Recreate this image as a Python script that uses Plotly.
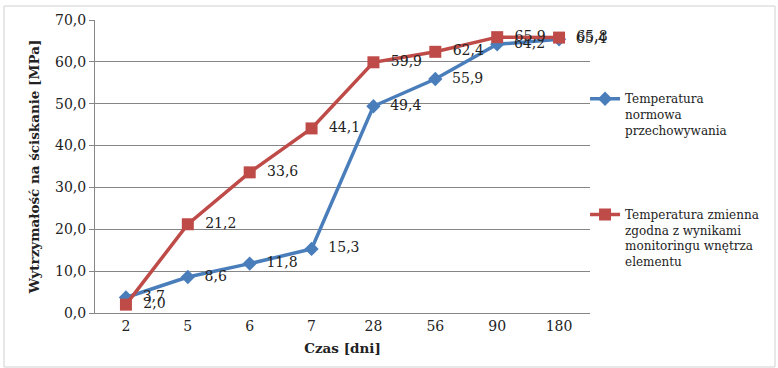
import plotly.graph_objects as go

categories = ["2", "5", "6", "7", "28", "56", "90", "180"]
normowa = [3.7, 8.6, 11.8, 15.3, 49.4, 55.9, 64.2, 65.4]
zmienna = [2.0, 21.2, 33.6, 44.1, 59.9, 62.4, 65.9, 65.8]
y_ticks = [0, 10, 20, 30, 40, 50, 60, 70]

name1 = "Temperatura<br>normowa<br>przechowywania"
name2 = "Temperatura zmienna<br>zgodna z wynikami<br>monitoringu wnętrza<br>elementu"

FONT = "DejaVu Serif"
TXT = "#222222"

def fmt(v):
    return "\u00a0\u00a0" + f"{v:.1f}".replace(".", ",")

W, H = 778, 368
ML, MR, MT, MB = 95, 188, 20, 55

fig = go.Figure()
fig.add_trace(go.Scatter(
    x=categories, y=normowa, name=name1, mode="lines+markers+text",
    line=dict(color="#4A7EBB", width=3.5),
    marker=dict(symbol="diamond", size=11, color="#4A7EBB"),
    text=[fmt(v) for v in normowa], textposition="middle right",
    textfont=dict(family=FONT, size=14, color=TXT),
    legendgroup="a", cliponaxis=False,
))
fig.add_trace(go.Scatter(
    x=categories, y=zmienna, name=name2, mode="lines+markers+text",
    line=dict(color="#BE4B48", width=3.5),
    marker=dict(symbol="square", size=12, color="#BE4B48"),
    text=[fmt(v) for v in zmienna], textposition="middle right",
    textfont=dict(family=FONT, size=14, color=TXT),
    legendgroup="b", cliponaxis=False,
))

pw = W - ML - MR
ph = H - MT - MB
fig.add_shape(type="rect", xref="paper", yref="paper",
              x0=(4 - ML) / pw, x1=(W - 3 - ML) / pw,
              y0=-(H - 1 - (H - MB)) / ph,
              y1=(MT - 6) / ph + 1,
              line=dict(color="#D0D0D0", width=1), layer="below")

fig.update_layout(
    width=W, height=H,
    margin=dict(l=ML, r=MR, t=MT, b=MB),
    paper_bgcolor="white", plot_bgcolor="white",
    separators=", ",
    font=dict(family=FONT, size=14, color=TXT),
    showlegend=True,
    legend=dict(x=0.99, xanchor="left", y=0.78, yanchor="top",
                font=dict(family=FONT, size=12, color=TXT),
                tracegroupgap=66, valign="top", itemwidth=30,
                bgcolor="rgba(0,0,0,0)"),
    xaxis=dict(type="category", range=[-0.5, 7.5],
               showgrid=False, showline=True, linecolor="#868686", linewidth=1,
               ticks="", tickfont=dict(family=FONT, size=14, color=TXT),
               title=dict(text="<b>Czas [dni]</b>", standoff=10,
                          font=dict(family=FONT, size=13.5, color=TXT)),
               fixedrange=True),
    yaxis=dict(range=[0, 70], tickvals=y_ticks, tickformat=".1f",
               showgrid=True, gridcolor="#868686", gridwidth=1,
               showline=True, linecolor="#868686", linewidth=1,
               ticks="outside", ticklen=5, tickcolor="#868686",
               tickfont=dict(family=FONT, size=14, color=TXT),
               zeroline=False,
               title=dict(text="<b>Wytrzymałość na ściskanie [MPa]</b>", standoff=12,
                          font=dict(family=FONT, size=13.5, color=TXT)),
               fixedrange=True),
)

fig.write_html("out.html")
